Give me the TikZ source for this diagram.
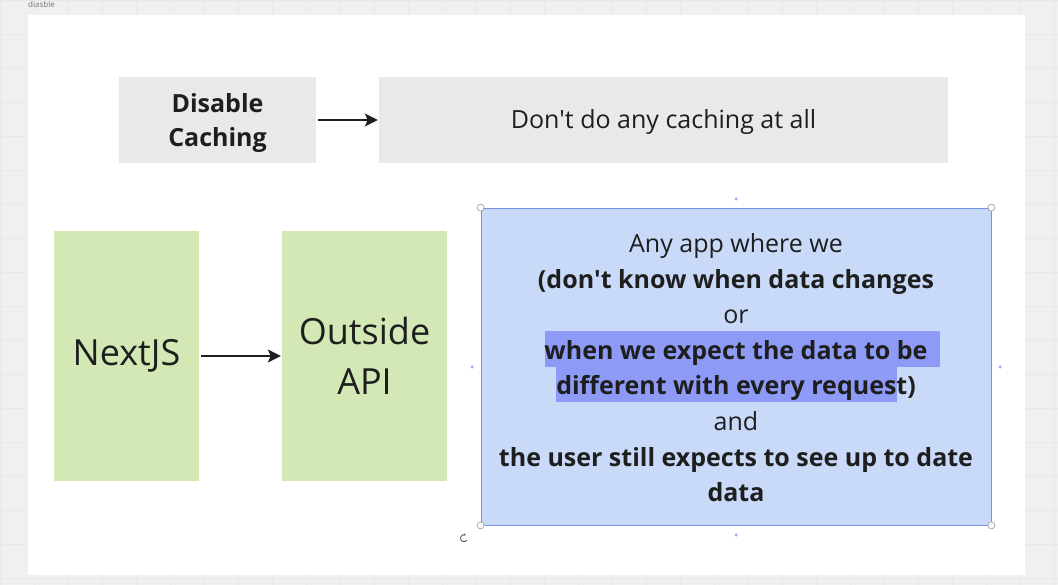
\documentclass[tikz,border=0pt]{standalone}
\usepackage{fontspec}
\setmainfont{Open Sans}
\usetikzlibrary{arrows.meta}
\definecolor{canvas}{HTML}{F0F0F0}
\definecolor{gridline}{HTML}{E9E9E9}
\definecolor{ink}{HTML}{1E1E1E}
\definecolor{boxgrey}{HTML}{E9E9E9}
\definecolor{boxgreen}{HTML}{D4E8B6}
\definecolor{boxblue}{HTML}{C9D9F8}
\definecolor{edgeblue}{HTML}{7496DE}
\definecolor{marker}{HTML}{8E9BF6}
\definecolor{handlegrey}{HTML}{9A9A9A}
\definecolor{pinblue}{HTML}{9AB0EA}

\begin{document}
\begin{tikzpicture}[x=1pt,y=-1pt,
    card/.style={inner sep=0pt,align=center,text=ink},
    link/.style={-{Stealth[length=13pt,width=13pt,inset=3pt]},line width=1.8pt,draw=ink,shorten <=2pt,shorten >=1pt},
    handle/.style={circle,draw=handlegrey,fill=white,line width=0.6pt,inner sep=0pt,minimum size=7pt},
    pin/.style={circle,fill=pinblue,inner sep=0pt,minimum size=3.5pt},
    line/.style={anchor=base,inner sep=0pt,text=ink,font=\fontsize{25}{30}\selectfont}]
         \useasboundingbox[fill=canvas] (0,0) rectangle (1058,585);
         \draw[gridline,line width=0.5pt] (0,0) grid[step=34pt] (1058,585);
         \fill[white] (28,15) rectangle (1025,575);
         \node[anchor=west,inner sep=0pt,text=ink!60,font=\fontsize{8}{8}\selectfont] (title) at (28,5) {diasble};

         % top row
         \node[card,fill=boxgrey,minimum width=197pt,minimum height=86pt] (disable) at (217.5,120) {};
         \node[card,font=\fontsize{25}{34}\selectfont\bfseries] (disabletext) at (217.5,123) {Disable\\Caching};
         \node[card,fill=boxgrey,minimum width=569pt,minimum height=86pt,font=\fontsize{25}{30}\selectfont,text depth=2pt] (nocache) at (663.5,120) {Don\textquotesingle t do any caching at all};
         \draw[link] (disable) -- (nocache);

         % bottom row
         \node[card,fill=boxgreen,minimum width=145pt,minimum height=250pt,font=\fontsize{36}{50}\selectfont] (next) at (126.5,356) {NextJS};
         \node[card,fill=boxgreen,minimum width=165pt,minimum height=250pt,font=\fontsize{36}{50}\selectfont] (api) at (364.5,356) {Outside\\API};
         \draw[link] (next) -- (api);

         \node[fill=boxblue,draw=edgeblue,line width=0.8pt,minimum width=510pt,minimum height=317pt] (when) at (736,366.5) {};
         \fill[marker] (545,331) rectangle (940,367);
         \fill[marker] (556,367) rectangle (897,402);
         \node[line] (any) at (736,253) {Any app where we};
         \node[line,font=\fontsize{25}{30}\selectfont\bfseries] (dont) at (736,288.5) {(don\textquotesingle t know when data changes};
         \node[line] (or) at (736,324) {or};
         \node[line,font=\fontsize{25}{30}\selectfont\bfseries] (expect) at (736,359.5) {when we expect the data to be};
         \node[line,font=\fontsize{25}{30}\selectfont\bfseries] (differ) at (736,395) {different with every request)};
         \node[line] (and) at (736,430.5) {and};
         \node[line,font=\fontsize{25}{30}\selectfont\bfseries] (user) at (736,466) {the user still expects to see up to date};
         \node[line,font=\fontsize{25}{30}\selectfont\bfseries] (data) at (736,501.5) {data};

         % selection handles
         \node[handle] (nw) at (when.north west) {};
         \node[handle] (ne) at (when.north east) {};
         \node[handle] (sw) at (when.south west) {};
         \node[handle] (se) at (when.south east) {};
         \node[pin] (pn) at (736,199) {};
         \node[pin] (ps) at (736,535) {};
         \node[pin] (pw) at (472,367) {};
         \node[pin] (pe) at (1000,367) {};
         \draw[ink!80,line width=0.8pt,-{Stealth[length=2pt,width=2.5pt]}] (467,540) arc[start angle=30,end angle=300,radius=3.5];
         %\node at (897,397) {I};
       \end{tikzpicture}
\end{document}
